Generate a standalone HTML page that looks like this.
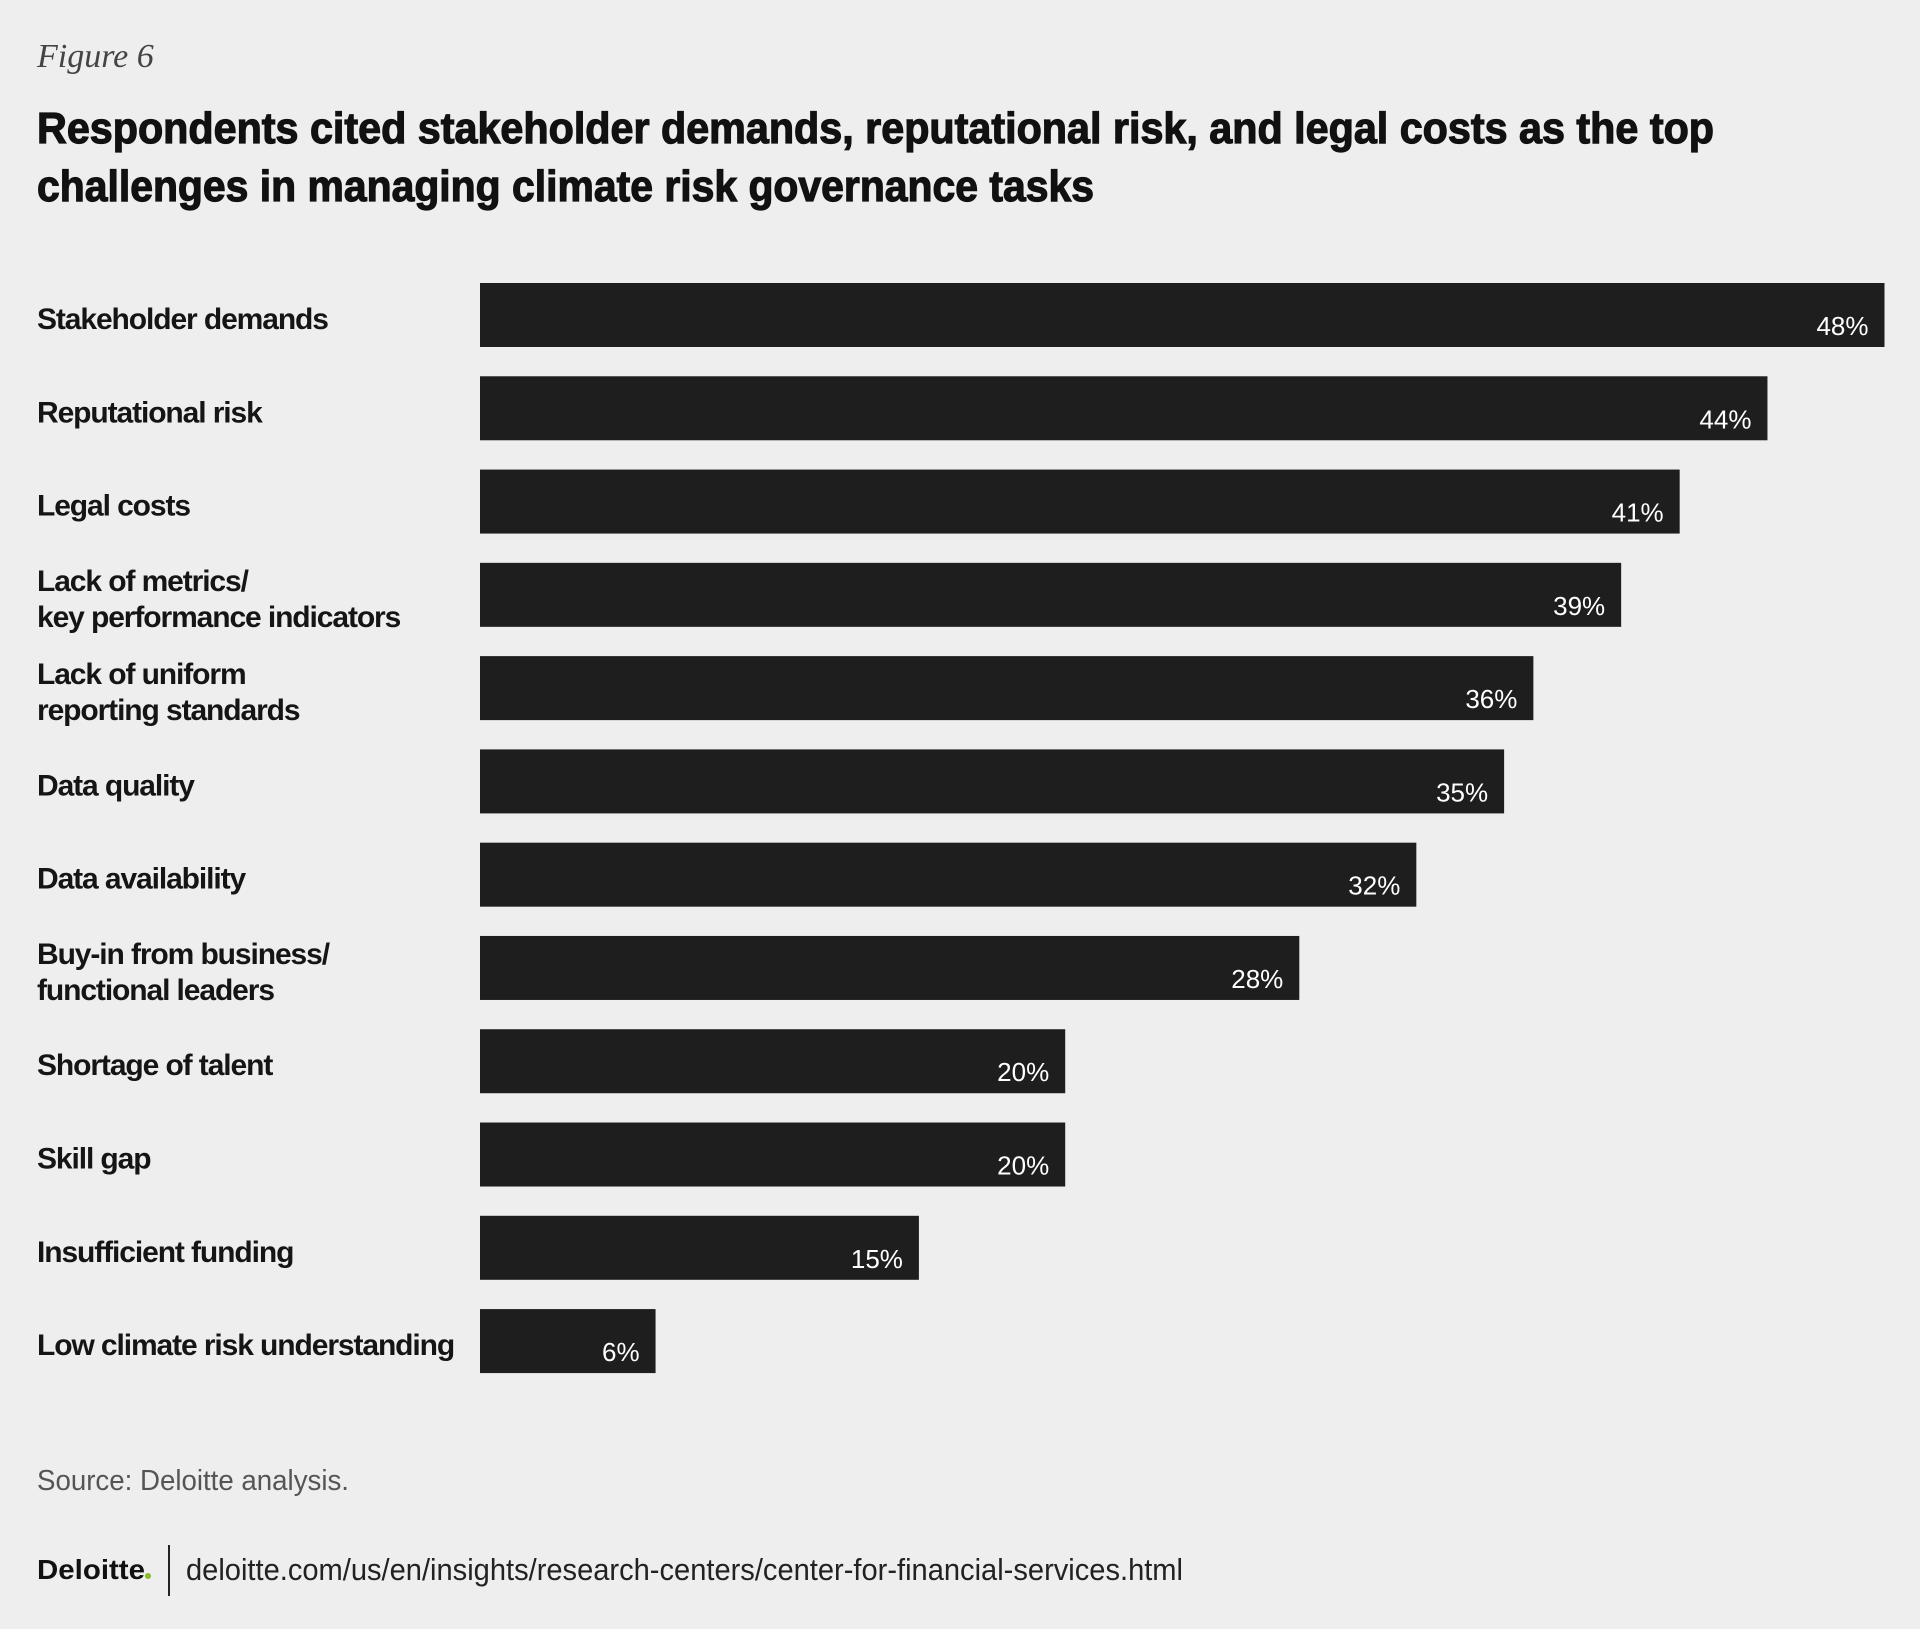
<!DOCTYPE html>
<html><head><meta charset="utf-8"><style>
html,body{margin:0;padding:0;background:#eeeeee;}
svg{display:block;}
</style></head><body>
<svg id="chart" width="1920" height="1629" viewBox="0 0 1920 1629" xmlns="http://www.w3.org/2000/svg">
<rect width="1920" height="1629" fill="#eeeeee"/>
<text x="37" y="67" font-family="Liberation Serif, serif" font-style="italic" font-size="34" fill="#444">Figure 6</text>
<text x="37" y="143" font-family="Liberation Sans, sans-serif" font-weight="bold" font-size="44" fill="#111" stroke="#111" stroke-width="1.2" textLength="1677" lengthAdjust="spacingAndGlyphs">Respondents cited stakeholder demands, reputational risk, and legal costs as the top</text>
<text x="37" y="201" font-family="Liberation Sans, sans-serif" font-weight="bold" font-size="44" fill="#111" stroke="#111" stroke-width="1.2" textLength="1057" lengthAdjust="spacingAndGlyphs">challenges in managing climate risk governance tasks</text>
<g id="bars"></g>
<text x="37" y="1490" font-family="Liberation Sans, sans-serif" font-size="29" fill="#555" textLength="312" lengthAdjust="spacingAndGlyphs">Source: Deloitte analysis.</text>
<text x="37" y="1579" font-family="Liberation Sans, sans-serif" font-weight="bold" font-size="28" fill="#111" textLength="108" lengthAdjust="spacingAndGlyphs">Deloitte</text>
<circle cx="148" cy="1576" r="3" fill="#86bc25"/>
<line x1="169" y1="1545" x2="169" y2="1596" stroke="#222" stroke-width="2"/>
<text x="186" y="1580" font-family="Liberation Sans, sans-serif" font-size="31" fill="#222" textLength="997" lengthAdjust="spacingAndGlyphs">deloitte.com/us/en/insights/research-centers/center-for-financial-services.html</text>
</svg>
<script>
const categories = [["Stakeholder demands"],["Reputational risk"],["Legal costs"],["Lack of metrics/","key performance indicators"],["Lack of uniform","reporting standards"],["Data quality"],["Data availability"],["Buy-in from business/","functional leaders"],["Shortage of talent"],["Skill gap"],["Insufficient funding"],["Low climate risk understanding"]];
const values = [48,44,41,39,36,35,32,28,20,20,15,6];
const valueLabels = ["48%","44%","41%","39%","36%","35%","32%","28%","20%","20%","15%","6%"];

const NS = "http://www.w3.org/2000/svg";
const x0 = 480, pxPer = (1884.5-480)/48, top0 = 283, pitch = 93.28, barH = 64;
const xScale = v => x0 + v*pxPer;
const yScale = i => top0 + i*pitch;
const g = document.getElementById('bars');
values.forEach((v,i)=>{
  const y = yScale(i);
  const r = document.createElementNS(NS,'rect');
  r.setAttribute('x',x0); r.setAttribute('y',y);
  r.setAttribute('width',xScale(v)-x0); r.setAttribute('height',barH);
  r.setAttribute('fill','#1e1e1e');
  
  
  g.appendChild(r);
  const t = document.createElementNS(NS,'text');
  t.setAttribute('x',xScale(v)-16); t.setAttribute('y',y+barH/2+20);
  t.setAttribute('text-anchor','end');
  t.setAttribute('font-family','Liberation Sans, sans-serif');
  t.setAttribute('font-size','26'); t.setAttribute('fill','#fff');
  t.textContent = valueLabels[i];
  
  
  g.appendChild(t);
  const lines = categories[i];
  const cy = y+barH/2;
  lines.forEach((ln,j)=>{
    const lt = document.createElementNS(NS,'text');
    const off = lines.length===1 ? 0 : (j===0?-18:18);
    lt.setAttribute('x',37); lt.setAttribute('y',cy+off+14);
    lt.setAttribute('font-family','Liberation Sans, sans-serif');
    lt.setAttribute('font-weight','bold');
    lt.setAttribute('font-size','30'); lt.setAttribute('fill','#151515');
    lt.setAttribute('letter-spacing','-1.1');
    lt.textContent = ln;
    
    
    g.appendChild(lt);
  });
});
</script>
</body></html>
